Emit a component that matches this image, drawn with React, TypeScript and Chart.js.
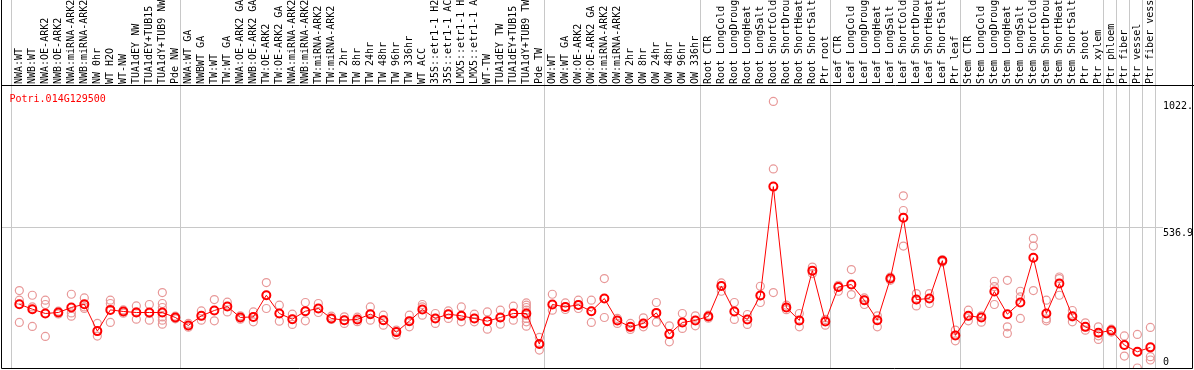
import React, { useEffect, useRef } from "react";
import { Chart, registerables } from "chart.js";

Chart.register(...registerables);

const geneTitle = "Potri.014G129500";

const categories = [
  "NWA:WT", "NWB:WT", "NWA:OE-ARK2", "NWB:OE-ARK2", "NWA:miRNA-ARK2", "NWB:miRNA-ARK2",
  "NW 0hr", "WT H2O", "WT-NW", "TUA1dEY NW", "TUA1dEY+TUB15 NW", "TUA1dY+TUB9 NW", "Pde NW",
  "NWA:WT GA", "NWBWT GA", "TW:WT", "TW:WT GA", "NWA:OE-ARK2 GA", "NWB:OE-ARK2 GA",
  "TW:OE-ARK2", "TW:OE-ARK2 GA", "NWA:miRNA-ARK2 GA", "NWB:miRNA-ARK2 GA", "TW:miRNA-ARK2",
  "TW:miRNA-ARK2 GA", "TW 2hr", "TW 8hr", "TW 24hr", "TW 48hr", "TW 96hr", "TW 336hr",
  "WT ACC", "35S::etr1-1 H2O", "35S::etr1-1 ACC", "LMX5::etr1-1 H2O", "LMX5::etr1-1 ACC",
  "WT-TW", "TUA1dEY TW", "TUA1dEY+TUB15 TW", "TUA1dY+TUB9 TW", "Pde TW",
  "OW:WT", "OW:WT GA", "OW:OE-ARK2", "OW:OE-ARK2 GA", "OW:miRNA-ARK2", "OW:miRNA-ARK2 GA",
  "OW 2hr", "OW 8hr", "OW 24hr", "OW 48hr", "OW 96hr", "OW 336hr",
  "Root CTR", "Root LongCold", "Root LongDrought", "Root LongHeat", "Root LongSalt",
  "Root ShortCold", "Root ShortDrought", "Root ShortHeat", "Root ShortSalt", "Ptr root",
  "Leaf CTR", "Leaf LongCold", "Leaf LongDrought", "Leaf LongHeat", "Leaf LongSalt",
  "Leaf ShortCold", "Leaf ShortDrought", "Leaf ShortHeat", "Leaf ShortSalt", "Ptr leaf",
  "Stem CTR", "Stem LongCold", "Stem LongDrought", "Stem LongHeat", "Stem LongSalt",
  "Stem ShortCold", "Stem ShortDrought", "Stem ShortHeat", "Stem ShortSalt", "Ptr shoot",
  "Ptr xylem", "Ptr phloem", "Ptr fiber", "Ptr vessel", "Ptr fiber vessel",
];

// index of the first category of each group (last entry closes the final group)
const groupStarts = [0, 13, 41, 53, 63, 73, 84, 85, 86, 87, 88];

const meanValues = [
  244.6, 225.5, 209.0, 212.8, 232.0, 244.6, 141.4, 222.8, 216.7, 212.8,
  212.8, 212.8, 193.7, 163.2, 199.9, 220.5, 235.8, 193.7, 196.0, 279.0,
  209.0, 187.2, 217.8, 228.1, 189.9, 183.4, 186.1, 206.4, 183.4, 137.6,
  179.6, 224.3, 189.9, 206.4, 199.9, 189.9, 179.6, 193.7, 209.0, 209.0,
  91.7, 243.4, 234.3, 241.9, 217.8, 266.4, 182.3, 157.8, 170.8, 211.3,
  129.9, 174.6, 182.3, 197.6, 314.5, 216.7, 186.1, 277.8, 695.5, 232.0,
  182.3, 373.3, 178.5, 310.7, 319.9, 259.9, 183.4, 342.8, 575.9, 262.5,
  266.4, 411.6, 125.0, 199.9, 193.7, 293.1, 206.4, 251.1, 423.0, 209.0,
  323.7, 198.7, 157.8, 134.9, 144.1, 87.9, 62.3, 79.1,
];

const replicateValues = [
  [296.9, 259.9, 174.6], [279.0, 234.3, 159.4], [259.9, 243.4, 121.1], [218.0, 212.8, 207.0],
  [282.8, 211.3, 198.7], [268.6, 234.3, 228.1], [170.8, 141.4, 122.3], [259.9, 247.2, 174.6],
  [222.8, 216.7, 210.2], [238.1, 215.1, 187.2], [243.4, 209.0, 183.4],
  [289.3, 247.2, 232.0, 196.0, 183.4, 168.1], [198.7, 193.7, 188.4], [170.8, 163.2, 156.7],
  [219.0, 199.9, 183.4], [262.5, 220.5, 180.8], [252.2, 235.8, 215.1], [199.9, 193.7, 187.2],
  [215.1, 196.0, 176.9], [327.5, 279.0, 228.1], [240.7, 209.0, 179.6], [206.4, 187.2, 167.0],
  [251.1, 217.8, 180.8], [247.2, 228.1, 212.8], [198.7, 189.9, 186.1], [196.0, 183.4, 170.8],
  [194.9, 186.1, 177.7], [234.3, 206.4, 183.4], [202.5, 183.4, 164.3], [145.2, 137.6, 126.1],
  [202.5, 179.6, 157.8], [243.4, 234.3, 202.5], [209.0, 189.9, 170.8], [219.0, 206.4, 189.9],
  [234.3, 199.9, 176.9], [206.4, 189.9, 176.9], [215.1, 179.6, 149.0], [221.6, 193.7, 168.1],
  [236.9, 209.0, 183.4], [249.5, 240.7, 232.0, 221.6, 202.5, 189.9, 176.9, 160.5],
  [117.3, 91.7, 68.8], [282.8, 243.4, 221.6], [249.5, 234.3, 224.3], [259.9, 241.9, 228.1],
  [259.9, 217.8, 174.6], [342.8, 266.4, 193.7], [189.9, 182.3, 170.8], [170.8, 157.8, 147.9],
  [192.2, 170.8, 157.8], [251.1, 211.3, 175.8], [161.6, 129.9, 100.5], [209.0, 174.6, 151.7],
  [199.9, 182.3, 161.6], [202.5, 197.6, 191.1], [326.0, 314.5, 294.2], [251.1, 216.7, 186.1],
  [205.2, 186.1, 167.0], [313.4, 277.8, 251.1], [1022.0, 763.1, 289.3], [240.7, 232.0, 223.6],
  [209.0, 182.3, 157.8], [387.1, 373.3, 361.9], [186.1, 178.5, 164.3], [317.2, 310.7, 294.2],
  [377.2, 319.9, 281.6], [268.6, 259.9, 243.4], [199.9, 183.4, 157.8], [348.9, 342.8, 336.3],
  [660.0, 603.8, 467.4], [285.5, 262.0, 238.1], [285.5, 266.4, 247.2], [415.4, 411.6, 406.2],
  [145.2, 125.0, 104.3], [221.6, 199.9, 180.8], [199.9, 193.7, 175.8], [332.5, 312.2, 243.4],
  [336.3, 157.8, 132.6], [294.2, 272.5, 189.9], [496.8, 467.4, 296.9], [259.9, 188.4, 180.8],
  [348.9, 342.8, 279.0], [220.5, 196.0, 176.9], [173.1, 157.8, 145.2], [157.8, 123.4, 109.7],
  [149.0, 144.1, 137.6], [123.1, 87.9, 45.9], [128.8, 61.1, 0], [155.5, 43.3, 30.6],
];

const yTickValues = [0, 536.9, 1022];
const yTickLabels = ["0", "536.9", "1022."];
const yGridValue = 536.9;
const yAxisMax = 1085;

const X_MIN = -1.41;
const X_MAX = 90.28;
const SEP_OFFSET = 0.615;
const FONT = '"DejaVu Sans Mono", "Liberation Mono", monospace';

const framePlugin = {
  id: "frameAndLabels",
  afterDraw(chart: any) {
    const { ctx, chartArea, scales } = chart;
    const { left, right, top, bottom } = chartArea;
    ctx.save();
    const y = scales.y;
    ctx.font = "10px " + FONT;
    ctx.textAlign = "left";
    ctx.textBaseline = "alphabetic";
    const labelX = right - 30;
    yTickValues.forEach((v, i) => {
      const py = y.getPixelForValue(v);
      if (v === yGridValue) {
        ctx.fillStyle = "#ffffff";
        ctx.fillRect(labelX, py - 1, right - labelX, 3);
      }
      ctx.fillStyle = "#000000";
      const base = v === 0 ? py - 3 : py + 8;
      ctx.fillText(yTickLabels[i], labelX, base);
    });
    ctx.fillStyle = "#ff0000";
    ctx.fillText(geneTitle, left + 8.5, top + 16.5);
    ctx.strokeStyle = "#000000";
    ctx.lineWidth = 1;
    ctx.beginPath();
    ctx.moveTo(left + 0.5, 0);
    ctx.lineTo(left + 0.5, bottom + 0.5);
    ctx.lineTo(right - 0.5, bottom + 0.5);
    ctx.lineTo(right - 0.5, 0);
    ctx.stroke();
    ctx.restore();
  },
};

const noPadding = (s: any) => {
  s.paddingLeft = 0;
  s.paddingRight = 0;
  s.paddingTop = 0;
  s.paddingBottom = 0;
};

export default function App() {
  const canvasRef = useRef<HTMLCanvasElement | null>(null);

  useEffect(() => {
    document.body.style.margin = "0";
    const canvas = canvasRef.current;
    if (!canvas) return;

    const meanPoints = meanValues.map((v, i) => ({ x: i, y: v }));
    const replicatePoints: { x: number; y: number }[] = [];
    replicateValues.forEach((reps, i) => reps.forEach((v) => replicatePoints.push({ x: i, y: v })));

    const chart = new Chart(canvas, {
      type: "line",
      data: {
        datasets: [
          {
            label: "mean",
            data: meanPoints,
            borderColor: "#ff0000",
            borderWidth: 1,
            pointRadius: 4,
            pointBorderWidth: 2,
            pointBorderColor: "#ff0000",
            pointBackgroundColor: "rgba(0,0,0,0)",
            tension: 0,
            order: 0,
          },
          {
            label: "replicates",
            data: replicatePoints,
            showLine: false,
            pointRadius: 4,
            pointBorderWidth: 1.2,
            pointBorderColor: "#e89898",
            pointBackgroundColor: "rgba(0,0,0,0)",
            order: 1,
          },
        ],
      },
      options: {
        animation: false,
        responsive: false,
        events: [],
        layout: { autoPadding: false, padding: { left: 1, right: 1, top: 0, bottom: 2 } },
        plugins: { legend: { display: false }, tooltip: { enabled: false }, title: { display: false } },
        scales: {
          x: {
            type: "linear",
            position: "top",
            min: X_MIN,
            max: X_MAX,
            weight: 1,
            afterBuildTicks: (s: any) => {
              s.ticks = categories.map((_, i) => ({ value: i }));
            },
            afterFit: (s: any) => {
              s.height = 85;
              noPadding(s);
            },
            ticks: {
              autoSkip: false,
              minRotation: 90,
              maxRotation: 90,
              padding: 1,
              labelOffset: 12,
              color: "#000000",
              font: { family: FONT, size: 10 },
              callback: (v: any) => categories[v] ?? "",
            },
            grid: { display: false, drawTicks: false },
            border: { display: true, color: "#000000", width: 1 },
          },
          xSep: {
            type: "linear",
            position: "top",
            min: X_MIN,
            max: X_MAX,
            weight: 0,
            afterBuildTicks: (s: any) => {
              s.ticks = groupStarts.map((g) => ({ value: g - SEP_OFFSET }));
            },
            afterFit: (s: any) => {
              s.height = 0;
              noPadding(s);
            },
            ticks: { display: false },
            grid: { display: true, color: "#c8c8c8", lineWidth: 1, drawTicks: true, tickLength: 85, drawOnChartArea: true },
            border: { display: false },
          },
          y: {
            type: "linear",
            position: "right",
            min: 0,
            max: yAxisMax,
            afterBuildTicks: (s: any) => {
              s.ticks = yTickValues.map((v) => ({ value: v }));
            },
            afterFit: (s: any) => {
              s.width = 0;
              noPadding(s);
            },
            ticks: { display: false },
            grid: {
              drawTicks: false,
              color: (c: any) => (c.tick && c.tick.value === yGridValue ? "#c8c8c8" : "rgba(0,0,0,0)"),
            },
            border: { display: false },
          },
        },
      } as any,
      plugins: [framePlugin],
    });

    return () => chart.destroy();
  }, []);

  return <canvas ref={canvasRef} width={1194} height={370} style={{ display: "block" }} />;
}
